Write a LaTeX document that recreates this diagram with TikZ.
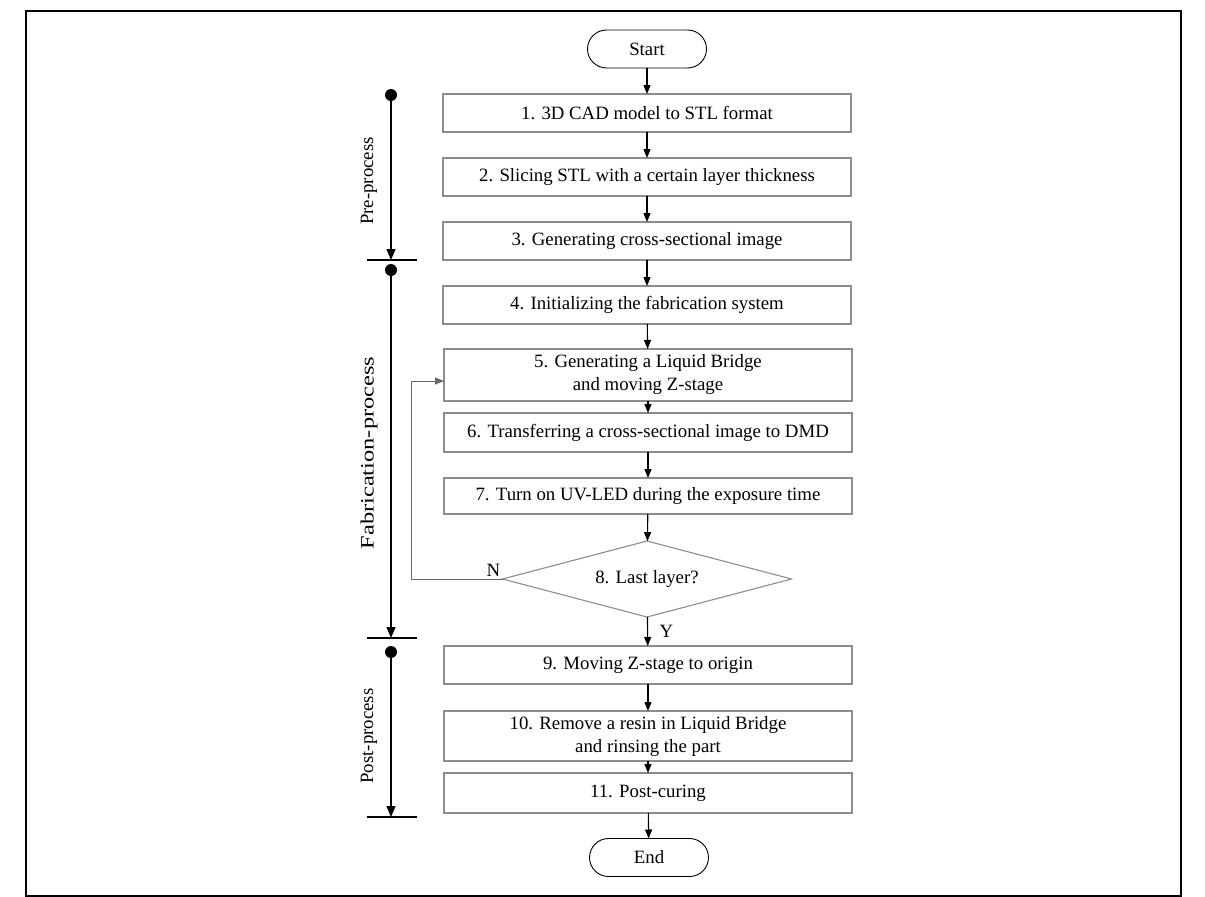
\documentclass[tikz,border=0pt]{standalone}
\usepackage{fontspec}
\setmainfont{Liberation Serif}
\usetikzlibrary{arrows.meta,shapes.geometric}

\begin{document}
\begin{tikzpicture}[x=1pt, y=-1pt,
	every node/.style={font=\fontsize{18.8}{23}\selectfont, align=center, inner sep=0pt, outer sep=0pt},
	stepbox/.style={draw=black!45, line width=1.1pt, minimum width=408pt},
	terminal/.style={draw=black, line width=0.9pt, rounded corners=19pt, minimum width=119pt, minimum height=38pt},
	decision/.style={draw=black!45, line width=1.1pt, diamond, aspect=3.8, minimum width=289pt, minimum height=76pt},
	flow/.style={-{Triangle[length=9pt, width=7pt]}, line width=1.1pt},
	phase/.style={-{Triangle[length=11pt, width=9pt]}, line width=1.4pt},
	tick/.style={line width=1.4pt}]
	\useasboundingbox (0,0) rectangle (1205,897);
	\draw[line width=1.3pt] (26,11) rectangle (1181,896);
	% Specification of nodes (position, etc.)
	\node (Start)		[terminal]							at (647,49)		{Start};
	\node (CAD)			[stepbox, minimum height=38pt]		at (647,113)	{1. 3D CAD model to STL format};
	\node (Slicing)		[stepbox, minimum height=38pt]		at (647,177)	{2. Slicing STL with a certain layer thickness};
	\node (Image)		[stepbox, minimum height=38pt]		at (647,241)	{3. Generating cross-sectional image};
	\node (Init)		[stepbox, minimum height=38pt]		at (647,305)	{4. Initializing the fabrication system};
	\node (Bridge)		[stepbox, minimum height=52pt]		at (648,375)	{5. Generating a Liquid Bridge\\and moving Z-stage};
	\node (Transfer)	[stepbox, minimum height=39pt]		at (648,432.5)	{6. Transferring a cross-sectional image to DMD};
	\node (Exposure)	[stepbox, minimum height=36pt]		at (648,496)	{7. Turn on UV-LED during the exposure time};
	\node (LastLayer)	[decision]							at (647,579)	{8. Last layer?};
	\node (Origin)		[stepbox, minimum height=38pt]		at (648,665)	{9. Moving Z-stage to origin};
	\node (Rinse)		[stepbox, minimum height=50pt]		at (648,736)	{10. Remove a resin in Liquid Bridge\\and rinsing the part};
	\node (Curing)		[stepbox, minimum height=40pt]		at (648,793)	{11. Post-curing};
	\node (End)			[terminal]							at (649,857.5)	{End};
	\draw[flow]	(Start) -- (CAD);
	\draw[flow]	(CAD) -- (Slicing);
	\draw[flow]	(Slicing) -- (Image);
	\draw[flow]	(Image) -- (Init);
	\draw[flow]	(Init) -- (Bridge);
	\draw[flow]	(Bridge) -- (Transfer);
	\draw[flow]	(Transfer) -- (Exposure);
	\draw[flow]	(Exposure) -- (LastLayer);
	\draw[flow]	(LastLayer) -- node[right=12pt]{Y} (Origin);
	\draw[flow]	(Origin) -- (Rinse);
	\draw[flow]	(Rinse) -- (Curing);
	\draw[flow]	(Curing) -- (End);
	\draw[flow, draw=black!60, line width=1pt]	(LastLayer.west) -- node[above=3pt, pos=0.1]{N} ++(-91,0) |- ([yshift=-6pt]Bridge.west);
	% phases on the left
	\coordinate (PreStart)	at (391,95);
	\coordinate (PreEnd)	at (391,260);
	\coordinate (FabStart)	at (391,270);
	\coordinate (FabEnd)	at (391,638);
	\coordinate (PostStart)	at (391,652);
	\coordinate (PostEnd)	at (391,817);
	\foreach \a/\b/\name/\y/\s in {PreStart/PreEnd/Pre-process/181/1, FabStart/FabEnd/Fabrication-process/453/1.3, PostStart/PostEnd/Post-process/736/1} {
		\fill (\a) circle (6pt);
		\draw[phase] (\a) -- (\b);
		\draw[tick] ([xshift=-24pt]\b) -- ([xshift=26pt]\b);
		\node[rotate=90] at (369,\y) {\scalebox{\s}[1]{\name}};
	}
\end{tikzpicture}
\end{document}
